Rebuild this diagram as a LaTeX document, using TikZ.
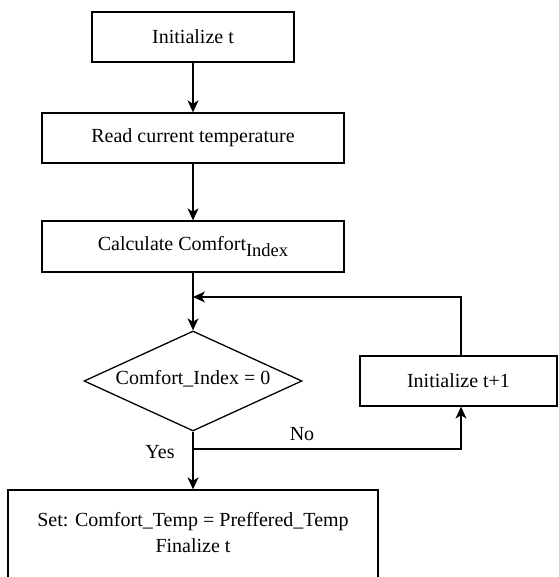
\documentclass[tikz,border=0pt]{standalone}
\usepackage{fontspec}
\setmainfont{Liberation Serif}
\usetikzlibrary{shapes.geometric,arrows.meta}
\begin{document}
\begin{tikzpicture}[x=1pt,y=1pt,
  box/.style={draw, line width=1.3pt, rectangle, inner sep=0pt, align=center, font=\fontsize{20}{24}\selectfont},
  dec/.style={draw, line width=1.3pt, diamond, shape aspect=2.18, inner sep=0pt, minimum width=218pt, minimum height=100pt},
  conn/.style={line width=1.3pt, -{Stealth[length=12pt,width=11pt,inset=3.5pt]}},
  line/.style={line width=1.3pt},
  lbl/.style={font=\fontsize{20}{24}\selectfont, inner sep=0pt}]
\useasboundingbox (0,0) rectangle (558,577);
\clip (0,0) rectangle (558,577);
\node[box, minimum width=202pt, minimum height=50pt] (b1) at (193,540) {Initialize t};
\node[box, minimum width=302pt, minimum height=50pt] (b2) at (193,439) {Read current temperature};
\node[box, minimum width=302pt, minimum height=51pt] (b3) at (193,330.5) {Calculate Comfort\raisebox{-6pt}{\fontsize{18.5}{20}\selectfont Index}};
\node[dec] (d) at (193,196) {};
\node[lbl] (dt) at (193,198) {Comfort\_Index = 0};
\node[box, minimum width=197pt, minimum height=50pt] (b4) at (458.5,196) {Initialize t+1};
\node[draw, line width=1.3pt, rectangle, minimum width=370pt, minimum height=107pt, inner sep=0pt] (b5) at (193,33.5) {};
\node[lbl] (t5a) at (193,55) {Set: Comfort\_Temp = Preffered\_Temp};
\node[lbl] (t5b) at (193,31) {Finalize t};
\coordinate (join) at (193,280);
\coordinate (split) at (193,128);
\coordinate (rt) at (461,280);
\coordinate (rb) at (461,128);
\draw[conn] (b1.south) -- (b2.north);
\draw[conn] (b2.south) -- (b3.north);
\draw[conn] (b3.south) -- (d.north);
\draw[conn] (b4.north -| rt) -- (rt) -- (join);
\draw[line] (d.south) -- (split);
\draw[conn] (split) -- (b5.north);
\draw[conn] (split) -- (rb) -- (b4.south -| rb);
\node[lbl] (no) at (302,143) {No};
\node[lbl] (yes) at (160,125) {Yes};
\end{tikzpicture}
\end{document}
